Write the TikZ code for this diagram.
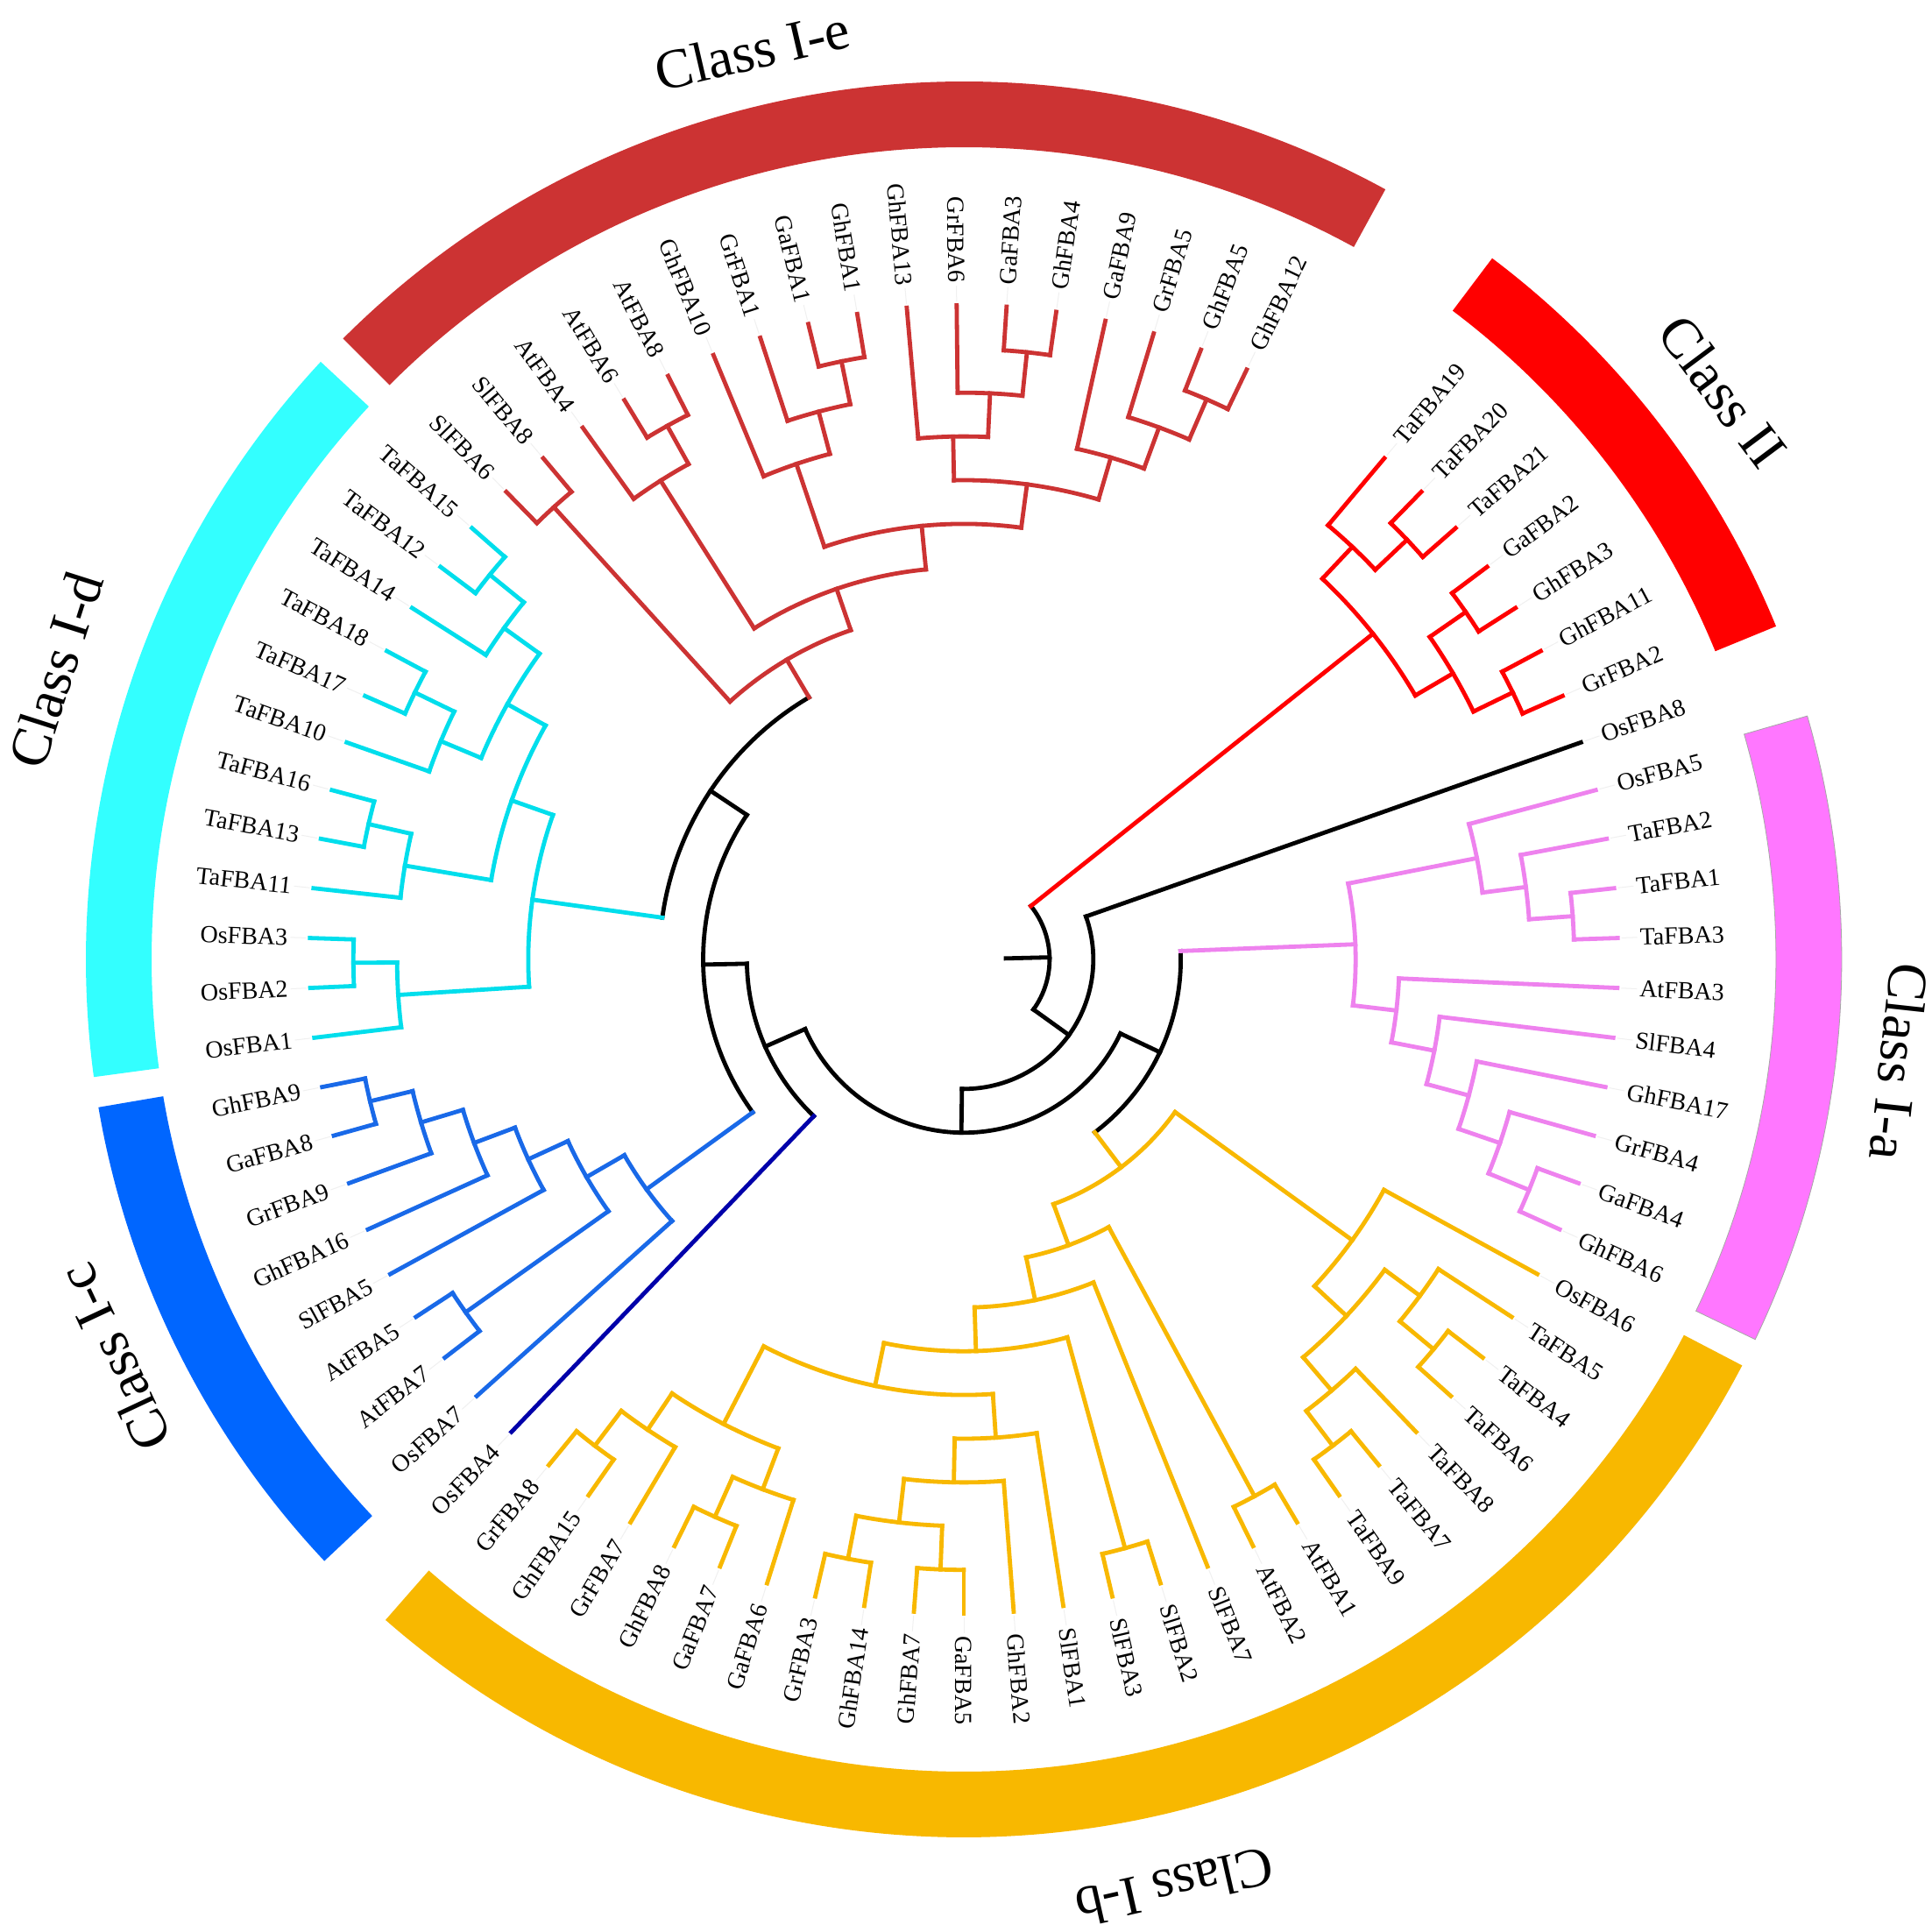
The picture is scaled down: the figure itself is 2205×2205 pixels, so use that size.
\documentclass[tikz,border=0pt]{standalone}
\usepackage{fontspec}
\setmainfont{Liberation Serif}
\definecolor{colE}{RGB}{204,51,51}
\definecolor{colII}{RGB}{255,0,0}
\definecolor{colA}{RGB}{238,130,238}
\definecolor{colAring}{RGB}{255,119,255}
\definecolor{colB}{RGB}{248,184,0}
\definecolor{colC}{RGB}{25,105,232}
\definecolor{colCring}{RGB}{0,102,255}
\definecolor{colD}{RGB}{0,222,236}
\definecolor{colDring}{RGB}{51,255,255}
\definecolor{colO}{RGB}{0,0,170}
% leaf tip + label (no flip / flipped)
\newcommand\tipR[2]{%
  \coordinate (#1) at (#2:746.6pt);
  \draw[lead] (#2:751pt) -- (#2:769pt);
  \node[lab, anchor=west, rotate=#2] (t-#1) at (#2:772pt) {#1};}
\newcommand\tipL[2]{%
  \coordinate (#1) at (#2:746.6pt);
  \draw[lead] (#2:751pt) -- (#2:769pt);
  \node[lab, anchor=east, rotate=#2+180] (t-#1) at (#2:772pt) {#1};}
% leaf branch: style, leaf name, angle, parent radius
\newcommand\lb[4]{%
  \coordinate (#2-b) at (#3:#4pt);
  \draw[#1] (#2-b) -- (#2);}
% internal node: style, name, angle, r, parent r, arc start, arc end
\newcommand\inn[7]{%
  \coordinate (#2) at (#3:#4pt);
  \coordinate (#2-b) at (#3:#5pt);
  \draw[#1] (#2-b) -- (#2);
  \draw[#1] (#6:#4pt) arc[start angle=#6, end angle=#7, radius=#4pt];}
\newcommand\ringseg[3]{%
  \fill[#1] (#2:927pt) arc[start angle=#2, end angle=#3, radius=927pt]
    -- (#3:1002pt) arc[start angle=#3, end angle=#2, radius=1002pt] -- cycle;}
\begin{document}
\begin{tikzpicture}[
  br/.style={line width=4.8pt, line cap=rect},
  bk/.style={br, black},
  bII/.style={br, colII},
  bA/.style={br, colA},
  bB/.style={br, colB},
  bC/.style={br, colC},
  bD/.style={br, colD},
  bE/.style={br, colE},
  bO/.style={br, colO},
  lab/.style={font=\fontsize{28}{31}\selectfont, inner sep=0pt, text=black},
  cls/.style={font=\fontsize{64}{70}\selectfont, inner sep=0pt, text=black},
  lead/.style={line width=1pt, black!6}]
\useasboundingbox[fill=white] (-1100pt,-1110pt) rectangle (1105pt,1095pt);

% ---------- class rings ----------
\ringseg{colE}{61.3}{135.0}
\ringseg{colII}{22.3}{53.0}
\ringseg{colAring}{-25.65}{16.1}
\draw[gray!70, line width=0.8pt] (-25.65:927pt) arc[start angle=-25.65, end angle=16.1, radius=927pt]
  -- (16.1:1002pt) arc[start angle=16.1, end angle=-25.65, radius=1002pt] -- cycle;
\ringseg{colB}{-131.2}{-27.55}
\ringseg{colCring}{-170.3}{-136.75}
\ringseg{colDring}{137.1}{187.7}

% ---------- class labels ----------
\node[cls, rotate=13.1] (lIe) at (103.1:1065pt) {Class I-e};
\node[cls, rotate=-53.2] (lII) at (36.8:1082pt) {Class II};
\node[cls, rotate=-96.25] (lIa) at (-6.25:1074pt) {Class I-a};
\node[cls, rotate=-167.2] (lIb) at (-77.2:1086pt) {Class I-b};
\node[cls, rotate=115.1] (lIc) at (-154.9:1071pt) {Class I-c};
\node[cls, rotate=72.3] (lId) at (162.3:1088pt) {Class I-d};

% ---------- leaves ----------
\tipR{TaFBA19}{50}
\tipR{TaFBA20}{45.625}
\tipR{TaFBA21}{41.25}
\tipR{GaFBA2}{36.875}
\tipR{GhFBA3}{32.5}
\tipR{GhFBA11}{28.125}
\tipR{GrFBA2}{23.75}
\tipR{OsFBA8}{19.375}
\tipR{OsFBA5}{15}
\tipR{TaFBA2}{10.625}
\tipR{TaFBA1}{6.25}
\tipR{TaFBA3}{1.875}
\tipR{AtFBA3}{-2.5}
\tipR{SlFBA4}{-6.875}
\tipR{GhFBA17}{-11.25}
\tipR{GrFBA4}{-15.625}
\tipR{GaFBA4}{-20}
\tipR{GhFBA6}{-24.375}
\tipR{OsFBA6}{-28.75}
\tipR{TaFBA5}{-33.125}
\tipR{TaFBA4}{-37.5}
\tipR{TaFBA6}{-41.875}
\tipR{TaFBA8}{-46.25}
\tipR{TaFBA7}{-50.625}
\tipR{TaFBA9}{-55}
\tipR{AtFBA1}{-59.375}
\tipR{AtFBA2}{-63.75}
\tipR{SlFBA7}{-68.125}
\tipR{SlFBA2}{-72.5}
\tipR{SlFBA3}{-76.875}
\tipR{SlFBA1}{-81.25}
\tipR{GhFBA2}{-85.625}
\tipR{GaFBA5}{-90}
\tipL{GhFBA7}{-94.375}
\tipL{GhFBA14}{-98.75}
\tipL{GrFBA3}{-103.125}
\tipL{GaFBA6}{-107.5}
\tipL{GaFBA7}{-111.875}
\tipL{GhFBA8}{-116.25}
\tipL{GrFBA7}{-120.625}
\tipL{GhFBA15}{-125}
\tipL{GrFBA8}{-129.375}
\tipL{OsFBA4}{-133.75}
\tipL{OsFBA7}{-138.125}
\tipL{AtFBA7}{-142.5}
\tipL{AtFBA5}{-146.875}
\tipL{SlFBA5}{-151.25}
\tipL{GhFBA16}{-155.625}
\tipL{GrFBA9}{-160}
\tipL{GaFBA8}{-164.375}
\tipL{GhFBA9}{-168.75}
\tipL{OsFBA1}{-173.125}
\tipL{OsFBA2}{-177.5}
\tipL{OsFBA3}{-181.875}
\tipL{TaFBA11}{-186.25}
\tipL{TaFBA13}{-190.625}
\tipL{TaFBA16}{-195}
\tipL{TaFBA10}{-199.375}
\tipL{TaFBA17}{-203.75}
\tipL{TaFBA18}{-208.125}
\tipL{TaFBA14}{-212.5}
\tipL{TaFBA12}{-216.875}
\tipL{TaFBA15}{-221.25}
\tipL{SlFBA6}{-225.625}
\tipL{SlFBA8}{-230}
\tipL{AtFBA4}{-234.375}
\tipL{AtFBA6}{-238.75}
\tipL{AtFBA8}{-243.125}
\tipL{GhFBA10}{-247.5}
\tipL{GrFBA1}{-251.875}
\tipL{GaFBA1}{-256.25}
\tipL{GhFBA1}{-260.625}
\tipL{GhFBA13}{-265}
\tipL{GrFBA6}{-269.375}
\tipR{GaFBA3}{-273.75}
\tipR{GhFBA4}{-278.125}
\tipR{GaFBA9}{-282.5}
\tipR{GrFBA5}{-286.875}
\tipR{GhFBA5}{-291.25}
\tipR{GhFBA12}{-295.625}

% ---------- backbone ----------
\inn{bk}{R}{1.398}{97.9}{48}{38.515625}{-35.72}
\inn{bk}{N2}{-35.72}{147.8}{97.9}{19.375}{-90.816}
\inn{bk}{N3}{-90.816}{197.7}{147.8}{-25.3235}{-156.30859375}
\inn{bk}{Nab}{-25.3235}{247.6}{197.7}{2.216796875}{-52.86376953125}
\inn{bk}{Ncde}{-156.30859375}{247.6}{197.7}{-133.75}{-178.8671875}
\inn{bk}{Ncde2}{-178.8671875}{297.5}{247.6}{-144.072265625}{-213.662109375}
\inn{bk}{Nde}{-213.662109375}{347.4}{297.5}{-187.890625}{-239.43359375}
\lb{bk}{OsFBA8}{19.375}{147.8}
\lb{bO}{OsFBA4}{-133.75}{247.6}

% ---------- Class II ----------
\inn{bII}{BII}{38.515625}{596.9}{97.9}{46.71875}{30.3125}
\inn{bII}{n19}{46.71875}{646.8}{596.9}{50}{43.4375}
\inn{bII}{n2021}{43.4375}{696.7}{646.8}{45.625}{41.25}
\inn{bII}{D}{30.3125}{646.8}{596.9}{34.6875}{25.9375}
\inn{bII}{nGa2}{34.6875}{696.7}{646.8}{36.875}{32.5}
\inn{bII}{nGh11}{25.9375}{696.7}{646.8}{28.125}{23.75}
\lb{bII}{TaFBA19}{50}{646.8}
\lb{bII}{TaFBA20}{45.625}{696.7}
\lb{bII}{TaFBA21}{41.25}{696.7}
\lb{bII}{GaFBA2}{36.875}{696.7}
\lb{bII}{GhFBA3}{32.5}{696.7}
\lb{bII}{GhFBA11}{28.125}{696.7}
\lb{bII}{GrFBA2}{23.75}{696.7}

% ---------- Class I-a ----------
\inn{bA}{Na}{2.216796875}{447.2}{247.6}{11.171875}{-6.73828125}
\inn{bA}{a11}{11.171875}{596.9}{447.2}{15}{7.34375}
\inn{bA}{a12}{7.34375}{646.8}{596.9}{10.625}{4.0625}
\inn{bA}{a13}{4.0625}{696.7}{646.8}{6.25}{1.875}
\inn{bA}{g9}{-6.73828125}{497.1}{447.2}{-2.5}{-10.9765625}
\inn{bA}{g10}{-10.9765625}{547}{497.1}{-6.875}{-15.078125}
\inn{bA}{g11}{-15.078125}{596.9}{547}{-11.25}{-18.90625}
\inn{bA}{g12}{-18.90625}{646.8}{596.9}{-15.625}{-22.1875}
\inn{bA}{g13}{-22.1875}{696.7}{646.8}{-20}{-24.375}
\lb{bA}{OsFBA5}{15}{596.9}
\lb{bA}{TaFBA2}{10.625}{646.8}
\lb{bA}{TaFBA1}{6.25}{696.7}
\lb{bA}{TaFBA3}{1.875}{696.7}
\lb{bA}{AtFBA3}{-2.5}{497.1}
\lb{bA}{SlFBA4}{-6.875}{547}
\lb{bA}{GhFBA17}{-11.25}{596.9}
\lb{bA}{GrFBA4}{-15.625}{646.8}
\lb{bA}{GaFBA4}{-20}{696.7}
\lb{bA}{GhFBA6}{-24.375}{696.7}

% ---------- Class I-b ----------
\inn{bB}{Nb}{-52.86376953125}{297.5}{247.6}{-35.859375}{-69.8681640625}
\inn{bB}{b1}{-35.859375}{547}{297.5}{-28.75}{-42.96875}
\inn{bB}{t3}{-42.96875}{596.9}{547}{-36.40625}{-49.53125}
\inn{bB}{t1}{-36.40625}{646.8}{596.9}{-33.125}{-39.6875}
\inn{bB}{t1a}{-39.6875}{696.7}{646.8}{-37.5}{-41.875}
\inn{bB}{t2}{-49.53125}{646.8}{596.9}{-46.25}{-52.8125}
\inn{bB}{t2a}{-52.8125}{696.7}{646.8}{-50.625}{-55}
\inn{bB}{b2}{-69.8681640625}{347.4}{297.5}{-61.5625}{-78.173828125}
\inn{bB}{at12}{-61.5625}{696.7}{347.4}{-59.375}{-63.75}
\inn{bB}{b3}{-78.173828125}{397.3}{347.4}{-68.125}{-88.22265625}
\inn{bB}{b4}{-88.22265625}{447.2}{397.3}{-74.6875}{-101.7578125}
\inn{bB}{sl23}{-74.6875}{696.7}{447.2}{-72.5}{-76.875}
\inn{bB}{b5}{-101.7578125}{497.1}{447.2}{-86.171875}{-117.34375}
\inn{bB}{b6}{-86.171875}{547}{497.1}{-81.25}{-91.09375}
\inn{bB}{b7}{-91.09375}{596.9}{547}{-85.625}{-96.5625}
\inn{bB}{b8}{-96.5625}{646.8}{596.9}{-92.1875}{-100.9375}
\inn{bB}{g57}{-92.1875}{696.7}{646.8}{-90}{-94.375}
\inn{bB}{g143}{-100.9375}{696.7}{646.8}{-98.75}{-103.125}
\inn{bB}{b9}{-117.34375}{596.9}{497.1}{-110.78125}{-123.90625}
\inn{bB}{b10}{-110.78125}{646.8}{596.9}{-107.5}{-114.0625}
\inn{bB}{g78}{-114.0625}{696.7}{646.8}{-111.875}{-116.25}
\inn{bB}{b11}{-123.90625}{646.8}{596.9}{-120.625}{-127.1875}
\inn{bB}{g158}{-127.1875}{696.7}{646.8}{-125}{-129.375}
\lb{bB}{OsFBA6}{-28.75}{547}
\lb{bB}{TaFBA5}{-33.125}{646.8}
\lb{bB}{TaFBA4}{-37.5}{696.7}
\lb{bB}{TaFBA6}{-41.875}{696.7}
\lb{bB}{TaFBA8}{-46.25}{646.8}
\lb{bB}{TaFBA7}{-50.625}{696.7}
\lb{bB}{TaFBA9}{-55}{696.7}
\lb{bB}{AtFBA1}{-59.375}{696.7}
\lb{bB}{AtFBA2}{-63.75}{696.7}
\lb{bB}{SlFBA7}{-68.125}{397.3}
\lb{bB}{SlFBA2}{-72.5}{696.7}
\lb{bB}{SlFBA3}{-76.875}{696.7}
\lb{bB}{SlFBA1}{-81.25}{547}
\lb{bB}{GhFBA2}{-85.625}{596.9}
\lb{bB}{GaFBA5}{-90}{696.7}
\lb{bB}{GhFBA7}{-94.375}{696.7}
\lb{bB}{GhFBA14}{-98.75}{696.7}
\lb{bB}{GrFBA3}{-103.125}{696.7}
\lb{bB}{GaFBA6}{-107.5}{646.8}
\lb{bB}{GaFBA7}{-111.875}{696.7}
\lb{bB}{GhFBA8}{-116.25}{696.7}
\lb{bB}{GrFBA7}{-120.625}{646.8}
\lb{bB}{GhFBA15}{-125}{696.7}
\lb{bB}{GrFBA8}{-129.375}{696.7}

% ---------- Class I-c ----------
\inn{bC}{Nc}{-144.072265625}{447.2}{297.5}{-138.125}{-150.01953125}
\inn{bC}{c9}{-150.01953125}{497.1}{447.2}{-144.6875}{-155.3515625}
\inn{bC}{at57}{-144.6875}{696.7}{497.1}{-142.5}{-146.875}
\inn{bC}{c10}{-155.3515625}{547}{497.1}{-151.25}{-159.453125}
\inn{bC}{c11}{-159.453125}{596.9}{547}{-155.625}{-163.28125}
\inn{bC}{c12}{-163.28125}{646.8}{596.9}{-160}{-166.5625}
\inn{bC}{c13}{-166.5625}{696.7}{646.8}{-164.375}{-168.75}
\lb{bC}{OsFBA7}{-138.125}{447.2}
\lb{bC}{AtFBA7}{-142.5}{696.7}
\lb{bC}{AtFBA5}{-146.875}{696.7}
\lb{bC}{SlFBA5}{-151.25}{547}
\lb{bC}{GhFBA16}{-155.625}{596.9}
\lb{bC}{GrFBA9}{-160}{646.8}
\lb{bC}{GaFBA8}{-164.375}{696.7}
\lb{bC}{GhFBA9}{-168.75}{696.7}

% ---------- Class I-d ----------
\inn{bD}{Nd}{-187.890625}{497.1}{347.4}{-176.40625}{-199.375}
\inn{bD}{os}{-176.40625}{646.8}{497.1}{-173.125}{-179.6875}
\inn{bD}{os23}{-179.6875}{696.7}{646.8}{-177.5}{-181.875}
\inn{bD}{th}{-199.375}{547}{497.1}{-189.53125}{-209.21875}
\inn{bD}{tb}{-189.53125}{646.8}{547}{-186.25}{-192.8125}
\inn{bD}{ta}{-192.8125}{696.7}{646.8}{-190.625}{-195}
\inn{bD}{tg}{-209.21875}{596.9}{547}{-202.65625}{-215.78125}
\inn{bD}{td}{-202.65625}{646.8}{596.9}{-199.375}{-205.9375}
\inn{bD}{tc}{-205.9375}{696.7}{646.8}{-203.75}{-208.125}
\inn{bD}{tf}{-215.78125}{646.8}{596.9}{-212.5}{-219.0625}
\inn{bD}{te}{-219.0625}{696.7}{646.8}{-216.875}{-221.25}
\lb{bD}{OsFBA1}{-173.125}{646.8}
\lb{bD}{OsFBA2}{-177.5}{696.7}
\lb{bD}{OsFBA3}{-181.875}{696.7}
\lb{bD}{TaFBA11}{-186.25}{646.8}
\lb{bD}{TaFBA13}{-190.625}{696.7}
\lb{bD}{TaFBA16}{-195}{696.7}
\lb{bD}{TaFBA10}{-199.375}{646.8}
\lb{bD}{TaFBA17}{-203.75}{696.7}
\lb{bD}{TaFBA18}{-208.125}{696.7}
\lb{bD}{TaFBA14}{-212.5}{646.8}
\lb{bD}{TaFBA12}{-216.875}{696.7}
\lb{bD}{TaFBA15}{-221.25}{696.7}

% ---------- Class I-e ----------
\inn{bE}{Ne}{-239.43359375}{397.3}{347.4}{-227.8125}{-251.0546875}
\inn{bE}{sl68}{-227.8125}{696.7}{397.3}{-225.625}{-230}
\inn{bE}{Ne1}{-251.0546875}{447.2}{397.3}{-237.65625}{-264.453125}
\inn{bE}{at4}{-237.65625}{646.8}{447.2}{-234.375}{-240.9375}
\inn{bE}{at68}{-240.9375}{696.7}{646.8}{-238.75}{-243.125}
\inn{bE}{x}{-264.453125}{497.1}{447.2}{-251.328125}{-277.578125}
\inn{bE}{y}{-251.328125}{596.9}{497.1}{-247.5}{-255.15625}
\inn{bE}{z}{-255.15625}{646.8}{596.9}{-251.875}{-258.4375}
\inn{bE}{gg1}{-258.4375}{696.7}{646.8}{-256.25}{-260.625}
\inn{bE}{w}{-277.578125}{547}{497.1}{-268.828125}{-286.328125}
\inn{bE}{v}{-268.828125}{596.9}{547}{-265}{-272.65625}
\inn{bE}{u}{-272.65625}{646.8}{596.9}{-269.375}{-275.9375}
\inn{bE}{gg34}{-275.9375}{696.7}{646.8}{-273.75}{-278.125}
\inn{bE}{q}{-286.328125}{596.9}{547}{-282.5}{-290.15625}
\inn{bE}{p}{-290.15625}{646.8}{596.9}{-286.875}{-293.4375}
\inn{bE}{gg512}{-293.4375}{696.7}{646.8}{-291.25}{-295.625}
\lb{bE}{SlFBA6}{-225.625}{696.7}
\lb{bE}{SlFBA8}{-230}{696.7}
\lb{bE}{AtFBA4}{-234.375}{646.8}
\lb{bE}{AtFBA6}{-238.75}{696.7}
\lb{bE}{AtFBA8}{-243.125}{696.7}
\lb{bE}{GhFBA10}{-247.5}{596.9}
\lb{bE}{GrFBA1}{-251.875}{646.8}
\lb{bE}{GaFBA1}{-256.25}{696.7}
\lb{bE}{GhFBA1}{-260.625}{696.7}
\lb{bE}{GhFBA13}{-265}{596.9}
\lb{bE}{GrFBA6}{-269.375}{646.8}
\lb{bE}{GaFBA3}{-273.75}{696.7}
\lb{bE}{GhFBA4}{-278.125}{696.7}
\lb{bE}{GaFBA9}{-282.5}{596.9}
\lb{bE}{GrFBA5}{-286.875}{646.8}
\lb{bE}{GhFBA5}{-291.25}{696.7}
\lb{bE}{GhFBA12}{-295.625}{696.7}
\end{tikzpicture}
\end{document}
